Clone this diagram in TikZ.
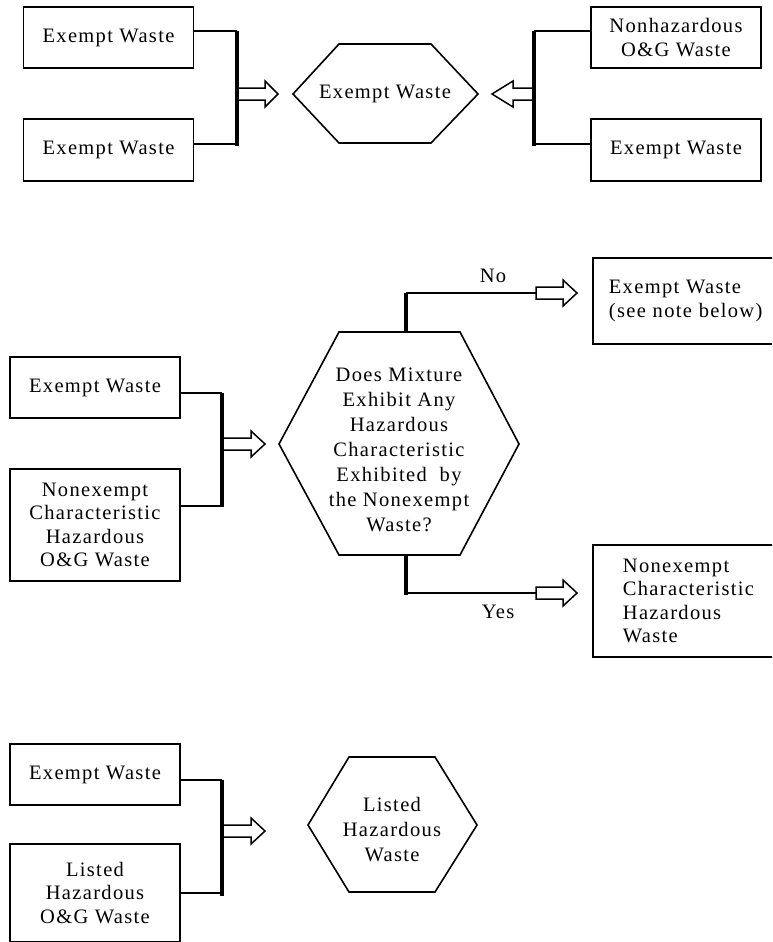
\documentclass[tikz,border=0pt]{standalone}
\usepackage{fontspec}
\newfontfamily\tnr[LetterSpace=6.5]{Liberation Serif}
\newcommand\blockarrow[4]{%
  \draw[harrow] (#1,#2-6) -- (#3,#2-6) -- (#3,#2-13) -- (#4,#2) -- (#3,#2+13) -- (#3,#2+6) -- (#1,#2+6) -- cycle;}
\begin{document}
\begin{tikzpicture}[x=1pt,y=-1pt,
  txt/.style={font=\tnr\fontsize{20.5}{23.5}\selectfont, align=center, inner sep=0pt},
  box/.style={txt, draw, line width=1.8pt, minimum width=170pt},
  conn/.style={line width=1.3pt},
  bar/.style={line width=4pt},
  hexa/.style={line width=1.6pt, line join=miter},
  harrow/.style={draw, fill=white, line width=1.5pt, line join=miter}]
\useasboundingbox (0,0) rectangle (772,942);
\clip (0,0) rectangle (772,942);

% ---------------- top section ----------------
\node[box, minimum height=61pt] (tl1) at (108.5,37.5) {Exempt Waste};
\node[box, minimum height=62pt] (tl2) at (108.5,150) {Exempt Waste};
\node[box, minimum height=61pt] (tr1) at (676,37.5) {Nonhazardous\\O\&G Waste};
\node[box, minimum height=62pt] (tr2) at (676,150) {Exempt Waste};
\draw[hexa] (293,94) -- (339,44) -- (431,44) -- (478,94) -- (431,143) -- (339,143) -- cycle;
\node[txt] (hex1) at (385,94) {Exempt Waste};

\coordinate (b1t) at (237,31);  \coordinate (b1b) at (237,146);
\coordinate (b2t) at (534,31);  \coordinate (b2b) at (534,146);
\draw[conn] (tl1.east |- b1t) -- (b1t);
\draw[conn] (tl2.east |- 0,144) -- (b1b |- 0,144);
\draw[conn] (tr1.west |- b2t) -- (b2t);
\draw[conn] (tr2.west |- 0,144) -- (b2b |- 0,144);
\blockarrow{237}{94}{265}{278}
\blockarrow{534}{94}{513}{492}
\draw[bar] (b1t) -- (b1b);
\draw[bar] (b2t) -- (b2b);

% ---------------- middle section ----------------
\node[box, minimum height=61pt] (ml1) at (95,387.5) {Exempt Waste};
\node[box, minimum height=112pt] (ml2) at (95,525) {Nonexempt\\Characteristic\\Hazardous\\O\&G Waste};
\draw[hexa] (279,444) -- (339,332) -- (460,332) -- (519,444) -- (460,555) -- (339,555) -- cycle;
\node[txt, font=\tnr\fontsize{20.5}{25}\selectfont] (hex2) at (399,450)
  {Does Mixture\\Exhibit Any\\Hazardous\\Characteristic\\Exhibited\ \ by\\the Nonexempt\\Waste?};

\node[box, anchor=north west, minimum height=86pt, text width=170pt, align=left, inner xsep=16pt] (mr1) at (592,257)
  {Exempt Waste\\(see note below)};
\node[box, anchor=north west, minimum height=112pt, text width=160pt, align=left, inner xsep=30pt] (mr2) at (592,544)
  {Nonexempt\\Characteristic\\Hazardous\\Waste};

\coordinate (b3t) at (222,393); \coordinate (b3b) at (222,507);
\draw[conn] (ml1.east |- b3t) -- (b3t);
\draw[conn] (ml2.east |- 0,506) -- (b3b |- 0,506);
\blockarrow{222}{444}{251}{265}
\draw[bar] (b3t) -- (b3b);

\coordinate (nob) at (406,332); \coordinate (not) at (406,293);
\coordinate (yest) at (406,555); \coordinate (yesb) at (406,595);
\draw[conn] (not) -- (536,293);
\draw[conn] (yest |- 0,593) -- (536,593);
\blockarrow{536}{293}{563}{577}
\blockarrow{536}{593}{563}{577}
\draw[bar] (not) -- (nob);
\draw[bar] (yest) -- (yesb);
\node[txt] (no) at (493,276) {No};
\node[txt] (yes) at (498,612) {Yes};

% ---------------- bottom section ----------------
\node[box, minimum height=61pt] (bl1) at (95,774.5) {Exempt Waste};
\node[box, minimum height=98pt] (bl2) at (95,893) {Listed\\Hazardous\\O\&G Waste};
\draw[hexa] (308,825) -- (349,757) -- (435,757) -- (477,825) -- (435,892) -- (349,892) -- cycle;
\node[txt, font=\tnr\fontsize{20.5}{25}\selectfont] (hex3) at (392,830) {Listed\\Hazardous\\Waste};

\coordinate (b4t) at (222,780); \coordinate (b4b) at (222,896);
\draw[conn] (bl1.east |- b4t) -- (b4t);
\draw[conn] (bl2.east |- 0,893) -- (b4b |- 0,893);
\blockarrow{222}{831}{251}{265}
\draw[bar] (b4t) -- (b4b);
\end{tikzpicture}
\end{document}
